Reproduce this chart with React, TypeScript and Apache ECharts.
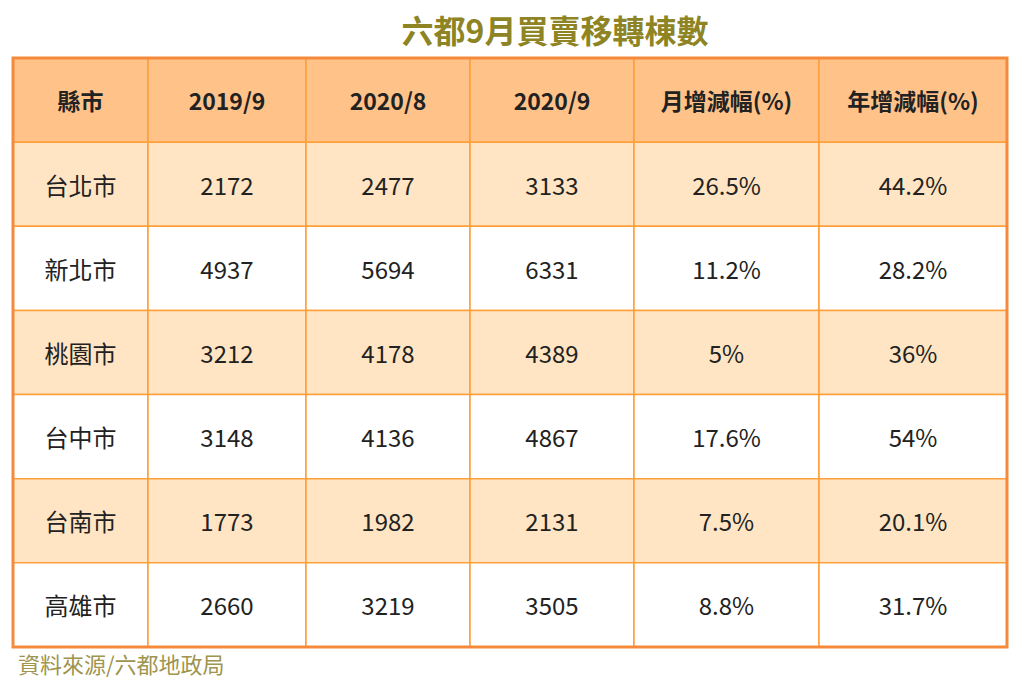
import React, { useEffect, useRef } from "react";
import * as echarts from "echarts";

const headers = ["縣市", "2019/9", "2020/8", "2020/9", "月增減幅(%)", "年增減幅(%)"];
const cities = ["台北市", "新北市", "桃園市", "台中市", "台南市", "高雄市"];
const sep2019 = [2172, 4937, 3212, 3148, 1773, 2660];
const aug2020 = [2477, 5694, 4178, 4136, 1982, 3219];
const sep2020 = [3133, 6331, 4389, 4867, 2131, 3505];
const monthChange = ["26.5%", "11.2%", "5%", "17.6%", "7.5%", "8.8%"];
const yearChange = ["44.2%", "28.2%", "36%", "54%", "20.1%", "31.7%"];

// column edges in px, relative to the table's left edge
const colEdges = [0, 135, 293, 457, 621, 806, 994];

const FONT = '"Noto Sans CJK TC", "Noto Sans", sans-serif';

const App: React.FC = () => {
    const chartRef = useRef<HTMLDivElement>(null);

    useEffect(() => {
        if (!chartRef.current) return;
        const chart = echarts.init(chartRef.current, undefined, { renderer: "svg" });

        const cells: (string | number)[][] = [];
        headers.forEach((h, c) => cells.push([c, 0, h]));
        cities.forEach((city, r) => {
            const row = [city, sep2019[r], aug2020[r], sep2020[r], monthChange[r], yearChange[r]];
            row.forEach((v, c) => cells.push([c, r + 1, String(v)]));
        });

        const options = {
            animation: false,
            backgroundColor: "#ffffff",
            grid: { left: 13, top: 58, width: 994, height: 589 },
            xAxis: { type: "value", min: 0, max: 994, show: false },
            yAxis: { type: "value", min: 0, max: 7, inverse: true, show: false },
            title: {
                text: "六都9月買賣移轉棟數",
                left: 550,
                textAlign: "center",
                top: 8,
                textStyle: { fontFamily: FONT, fontSize: 32, fontWeight: "bold", color: "#8E8424" }
            },
            graphic: [
                {
                    type: "rect",
                    z: 100,
                    shape: { x: 13, y: 58, width: 994, height: 589 },
                    style: { fill: "none", stroke: "#F58A3C", lineWidth: 3 }
                },
                {
                    type: "text",
                    left: 18,
                    top: 652,
                    style: { text: "資料來源/六都地政局", fontFamily: FONT, fontSize: 22, fill: "#A0944E" }
                }
            ],
            series: [
                {
                    type: "custom",
                    coordinateSystem: "cartesian2d",
                    data: cells,
                    renderItem: (params: any, api: any) => {
                        const c = api.value(0) as number;
                        const r = api.value(1) as number;
                        const text = cells[params.dataIndex][2] as string;
                        const p0 = api.coord([colEdges[c], r]);
                        const p1 = api.coord([colEdges[c + 1], r + 1]);
                        const fill = r === 0 ? "#FFC38A" : r % 2 === 1 ? "#FFE5C3" : "#FFFFFF";
                        return {
                            type: "group",
                            children: [
                                {
                                    type: "rect",
                                    shape: { x: p0[0], y: p0[1], width: p1[0] - p0[0], height: p1[1] - p0[1] },
                                    style: { fill, stroke: "#FF9F3A", lineWidth: 1.5 }
                                },
                                {
                                    type: "text",
                                    x: (p0[0] + p1[0]) / 2,
                                    y: (p0[1] + p1[1]) / 2,
                                    style: {
                                        text,
                                        align: "center",
                                        verticalAlign: "middle",
                                        fontFamily: FONT,
                                        fontSize: r === 0 ? 23 : 24,
                                        fontWeight: r === 0 ? "bold" : "normal",
                                        fill: "#222222"
                                    }
                                }
                            ]
                        };
                    }
                }
            ]
        };

        chart.setOption(options as any);
        return () => chart.dispose();
    }, []);

    return (
        <div
            ref={chartRef}
            style={{ position: "absolute", left: 0, top: 0, width: 1024, height: 692 }}
        />
    );
};

export default App;
